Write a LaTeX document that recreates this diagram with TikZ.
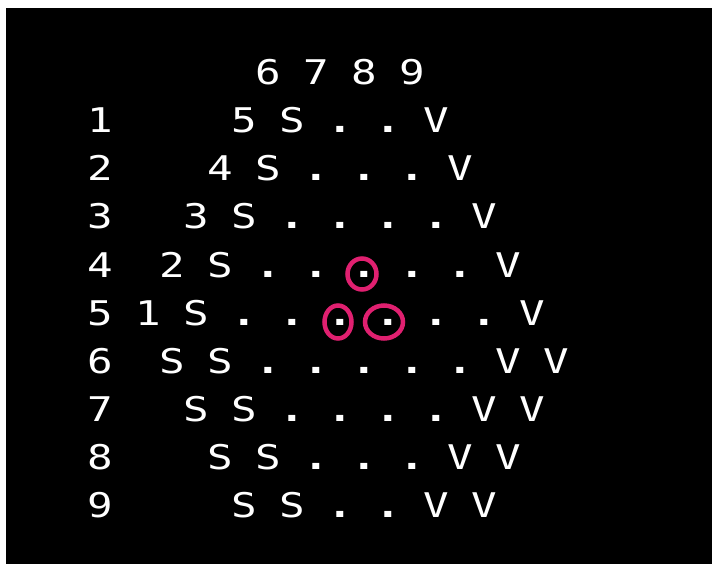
\documentclass[tikz,border=0pt]{standalone}
\usepackage{fontspec}
\newfontfamily\gridfont[FakeStretch=1.25]{DejaVu Sans Mono}
\definecolor{ringpink}{RGB}{224,32,112}
\newcommand\pd{{\bfseries .}}
\begin{document}
\begin{tikzpicture}[x=1pt,y=-1pt,
  cell/.style={text=white, font={\gridfont\fontsize{34pt}{34pt}\selectfont}, inner sep=0pt, anchor=base},
  ring/.style={draw=ringpink, line width=4.5pt}]
\useasboundingbox (0,0) rectangle (712,564);
\fill[white] (0,0) rectangle (712,564);
\fill[black] (6,8) rectangle (712,564);
\newcommand\gcell[3]{\node[cell] (n-#1-#2) at ({100+24*#2},{133+48*(#1-1)}) {#3};}
\foreach \c/\t in {7/6,9/7,11/8,13/9}{\gcell{0}{\c}{\t}}
\foreach \c/\t in {0/1,6/5,8/S,10/\pd,12/\pd,14/V}{\gcell{1}{\c}{\t}}
\foreach \c/\t in {0/2,5/4,7/S,9/\pd,11/\pd,13/\pd,15/V}{\gcell{2}{\c}{\t}}
\foreach \c/\t in {0/3,4/3,6/S,8/\pd,10/\pd,12/\pd,14/\pd,16/V}{\gcell{3}{\c}{\t}}
\foreach \c/\t in {0/4,3/2,5/S,7/\pd,9/\pd,11/\pd,13/\pd,15/\pd,17/V}{\gcell{4}{\c}{\t}}
\foreach \c/\t in {0/5,2/1,4/S,6/\pd,8/\pd,10/\pd,12/\pd,14/\pd,16/\pd,18/V}{\gcell{5}{\c}{\t}}
\foreach \c/\t in {0/6,3/S,5/S,7/\pd,9/\pd,11/\pd,13/\pd,15/\pd,17/V,19/V}{\gcell{6}{\c}{\t}}
\foreach \c/\t in {0/7,4/S,6/S,8/\pd,10/\pd,12/\pd,14/\pd,16/V,18/V}{\gcell{7}{\c}{\t}}
\foreach \c/\t in {0/8,5/S,7/S,9/\pd,11/\pd,13/\pd,15/V,17/V}{\gcell{8}{\c}{\t}}
\foreach \c/\t in {0/9,6/S,8/S,10/\pd,12/\pd,14/V,16/V}{\gcell{9}{\c}{\t}}
\draw[ring] ([shift={(-2,-3)}]n-4-11.base) ellipse [x radius=14.5pt, y radius=15.5pt];
\draw[ring] ([shift={(-2,-3)}]n-5-10.base) ellipse [x radius=13.5pt, y radius=16.5pt];
\draw[ring] ([shift={(-4,-3)}]n-5-12.base) ellipse [x radius=19pt, y radius=16.5pt];
\end{tikzpicture}
\end{document}
